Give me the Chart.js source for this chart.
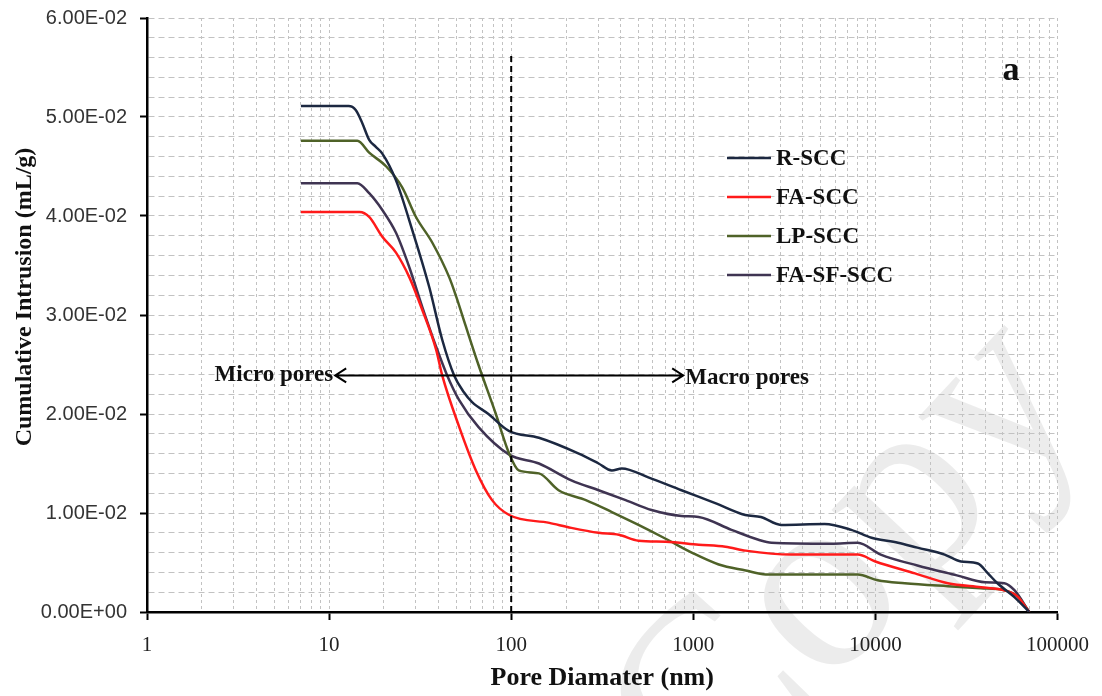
<!DOCTYPE html>
<html>
<head>
<meta charset="utf-8">
<script src="https://cdn.jsdelivr.net/npm/chart.js@4.4.1/dist/chart.umd.min.js"></script>
<style>
  html, body { margin: 0; padding: 0; background: #fff; }
  canvas { display: block; }
</style>
</head>
<body>
<canvas id="myChart" width="1102" height="696"></canvas>
<script>
// Pore diameter (nm) and cumulative intrusion (mL/g)
const rsccX = [7, 12.8, 14, 15.2, 16.6, 18, 19.6, 23.3, 28.6, 35.5, 41.8, 48.6, 55, 61, 75, 97, 142, 235, 302, 357, 405, 566, 861, 1320, 1930, 2350, 3030, 5260, 7370, 9520, 13300, 17000, 24000, 29500, 36500, 41500, 46800, 58000, 70000];
const rsccY = [0.0511, 0.0511, 0.0507, 0.0494, 0.0477, 0.0470, 0.0463, 0.0436, 0.0386, 0.0328, 0.0275, 0.0239, 0.0222, 0.0212, 0.0200, 0.0183, 0.0176, 0.0160, 0.0150, 0.0143, 0.0145, 0.0136, 0.0123, 0.0110, 0.0098, 0.0096, 0.0088, 0.0089, 0.0083, 0.0075, 0.0070, 0.0065, 0.0058, 0.0051, 0.0049, 0.0039, 0.0029, 0.0015, 0];

const fasccX = [7, 14.7, 16.6, 19.6, 23.3, 27.6, 32.5, 38.7, 41.8, 51.8, 64, 78.5, 97.5, 162, 214, 302, 390, 500, 705, 1070, 1500, 1940, 3460, 5700, 8000, 10000, 16500, 25000, 38000, 51000, 60000, 70000];
const fasccY = [0.0404, 0.0404, 0.0399, 0.0379, 0.0363, 0.0338, 0.0305, 0.0265, 0.0239, 0.0187, 0.0143, 0.0113, 0.0098, 0.0090, 0.0085, 0.0080, 0.0078, 0.0072, 0.0071, 0.0068, 0.0066, 0.0062, 0.0058, 0.0058, 0.0058, 0.0051, 0.0039, 0.0029, 0.0025, 0.0022, 0.0016, 0];

const lpsccX = [7, 14.3, 16.6, 20.6, 25.2, 30, 36.9, 45.7, 50, 56, 66, 82, 97.5, 110, 142, 182, 257, 357, 500, 705, 980, 1380, 1940, 2500, 5700, 8000, 10300, 14500, 25000, 38000, 51000, 60000, 70000];
const lpsccY = [0.0476, 0.0476, 0.0464, 0.0450, 0.0429, 0.0399, 0.0373, 0.0338, 0.0318, 0.0290, 0.0250, 0.0201, 0.0160, 0.0143, 0.0140, 0.0123, 0.0113, 0.0101, 0.0088, 0.0074, 0.0060, 0.0048, 0.0042, 0.0038, 0.0038, 0.0038, 0.0032, 0.0029, 0.0026, 0.0024, 0.0022, 0.0016, 0];

const fasfsccX = [7, 14.3, 16.6, 19.6, 23.3, 27.6, 32.5, 38.7, 44.5, 51.8, 66, 97.5, 142, 214, 302, 425, 590, 861, 1070, 1620, 2280, 2690, 5700, 8000, 10700, 17000, 28000, 40000, 51000, 58000, 70000];
const fasfsccY = [0.0433, 0.0433, 0.0423, 0.0406, 0.0383, 0.0348, 0.0308, 0.0268, 0.0239, 0.0214, 0.0187, 0.0159, 0.0150, 0.0133, 0.0123, 0.0113, 0.0103, 0.0097, 0.0096, 0.0083, 0.0073, 0.0070, 0.0069, 0.0070, 0.0058, 0.0047, 0.0037, 0.0030, 0.0029, 0.0022, 0];

const seriesNames = ['R-SCC', 'FA-SCC', 'LP-SCC', 'FA-SF-SCC'];
const seriesColors = ['#1c2841', '#ff1a1a', '#4f6228', '#3f3452'];

// axis ticks
const xDecades = [1, 10, 100, 1000, 10000, 100000];
const xTickLabels = ['1', '10', '100', '1000', '10000', '100000'];
const yMajor = [0, 0.01, 0.02, 0.03, 0.04, 0.05, 0.06];
const yTickLabels = ['0.00E+00', '1.00E-02', '2.00E-02', '3.00E-02', '4.00E-02', '5.00E-02', '6.00E-02'];

function pts(xs, ys) {
    return xs.map((x, i) => ({ x: x, y: ys[i] }));
}

function decadeIndex(v) {
    return xDecades.findIndex(d => Math.abs(d - v) < d * 1e-9);
}

function yMajorIndex(v) {
    return yMajor.findIndex(m => Math.abs(m - v) < 1e-9);
}

// minor log grid: 2..9 inside each decade
const xGrid = [];
xDecades.forEach((d, i) => {
    xGrid.push(d);
    if (i < xDecades.length - 1) {
        for (let m = 2; m <= 9; m++) xGrid.push(d * m);
    }
});

const serif = "'Liberation Serif', 'Times New Roman', serif";

// extra drawing: watermark, dashed 100 nm line, arrow, legend, panel letter
const extras = {
    id: 'extras',
    beforeDraw(chart) {
        const ctx = chart.ctx;
        ctx.save();
        ctx.translate(850, 565);
        ctx.rotate(-0.82);
        ctx.font = '260px ' + serif;
        ctx.fillStyle = 'rgba(0,0,0,0.075)';
        ctx.textAlign = 'center';
        ctx.textBaseline = 'middle';
        ctx.fillText('Copy', 0, 0);
        ctx.restore();
    },
    afterDatasetsDraw(chart) {
        const ctx = chart.ctx;
        const xs = chart.scales.x, ys = chart.scales.y;

        // 100 nm boundary
        ctx.save();
        ctx.strokeStyle = '#000';
        ctx.lineWidth = 2;
        ctx.setLineDash([6, 4]);
        ctx.beginPath();
        ctx.moveTo(xs.getPixelForValue(100), ys.getPixelForValue(0));
        ctx.lineTo(xs.getPixelForValue(100), ys.getPixelForValue(0.0562));
        ctx.stroke();
        ctx.restore();

        // double arrow
        const ay = ys.getPixelForValue(0.0239);
        const ax1 = xs.getPixelForValue(10.8);
        const ax2 = xs.getPixelForValue(880);
        ctx.save();
        ctx.strokeStyle = '#000';
        ctx.lineWidth = 2;
        ctx.beginPath();
        ctx.moveTo(ax1, ay);
        ctx.lineTo(ax2, ay);
        ctx.moveTo(ax1 + 11, ay - 7);
        ctx.lineTo(ax1, ay);
        ctx.lineTo(ax1 + 11, ay + 7);
        ctx.moveTo(ax2 - 11, ay - 7);
        ctx.lineTo(ax2, ay);
        ctx.lineTo(ax2 - 11, ay + 7);
        ctx.stroke();

        ctx.fillStyle = '#111';
        ctx.font = 'bold 23px ' + serif;
        ctx.textBaseline = 'middle';
        ctx.textAlign = 'right';
        ctx.fillText('Micro pores', ax1 - 2, ay);
        ctx.textAlign = 'left';
        ctx.fillText('Macro pores', ax2 + 2, ay + 3);

        // panel letter
        ctx.font = 'bold 34px ' + serif;
        ctx.textAlign = 'center';
        ctx.textBaseline = 'alphabetic';
        ctx.fillText('a', 1011, 80);

        // legend
        ctx.font = 'bold 23px ' + serif;
        ctx.textAlign = 'left';
        ctx.textBaseline = 'middle';
        chart.data.datasets.forEach((ds, i) => {
            const ly = 158 + i * 39;
            ctx.strokeStyle = ds.borderColor;
            ctx.lineWidth = 2.5;
            ctx.beginPath();
            ctx.moveTo(727, ly);
            ctx.lineTo(771, ly);
            ctx.stroke();
            ctx.fillStyle = '#111';
            ctx.fillText(ds.label, 776, ly + 1);
        });
        ctx.restore();
    }
};

const seriesX = [rsccX, fasccX, lpsccX, fasfsccX];
const seriesY = [rsccY, fasccY, lpsccY, fasfsccY];

const ctx = document.getElementById('myChart').getContext('2d');
const myChart = new Chart(ctx, {
    type: 'line',
    data: {
        datasets: seriesNames.map((name, i) => ({
            label: name,
            data: pts(seriesX[i], seriesY[i]),
            borderColor: seriesColors[i],
            backgroundColor: seriesColors[i],
            borderWidth: 2.5,
            pointRadius: 0,
            fill: false,
            cubicInterpolationMode: 'monotone'
        }))
    },
    options: {
        responsive: false,
        animation: false,
        layout: { padding: { left: 0, right: 40, top: 18, bottom: 0 } },
        plugins: {
            legend: { display: false },
            tooltip: { enabled: false }
        },
        scales: {
            x: {
                type: 'logarithmic',
                min: 1,
                max: 100000,
                afterBuildTicks: function(scale) {
                    scale.ticks = xGrid.map(v => ({ value: v, major: decadeIndex(v) >= 0 }));
                },
                afterFit: function(scale) { scale.height = 84; },
                grid: {
                    color: '#c2c2c2',
                    lineWidth: 1,
                    tickLength: 8,
                    tickWidth: 2,
                    tickColor: c => (c.tick && decadeIndex(c.tick.value) >= 0) ? '#000' : 'rgba(0,0,0,0)'
                },
                border: { color: '#000', width: 2.5, dash: [3, 3] },
                ticks: {
                    autoSkip: false,
                    maxRotation: 0,
                    padding: 13,
                    color: '#222',
                    font: { family: serif, size: 21 },
                    callback: function(value) {
                        const k = decadeIndex(value);
                        return k >= 0 ? xTickLabels[k] : '';
                    }
                },
                title: {
                    display: true,
                    text: 'Pore Diamater (nm)',
                    color: '#111',
                    font: { family: serif, size: 26, weight: 'bold' },
                    padding: { top: 0, bottom: 2 }
                }
            },
            y: {
                min: 0,
                max: 0.06,
                afterFit: function(scale) {
                    scale.width = 147;
                    scale.paddingTop = 0;
                    scale.paddingBottom = 0;
                },
                grid: {
                    color: '#c2c2c2',
                    lineWidth: 1,
                    tickLength: 7,
                    tickWidth: 2,
                    tickColor: c => (c.tick && yMajorIndex(c.tick.value) >= 0) ? '#000' : 'rgba(0,0,0,0)'
                },
                border: { color: '#000', width: 2.5, dash: [6, 4] },
                ticks: {
                    stepSize: 0.002,
                    autoSkip: false,
                    padding: 13,
                    color: '#333',
                    font: { family: "'Liberation Sans', Arial, sans-serif", size: 20 },
                    callback: function(value) {
                        const k = yMajorIndex(value);
                        return k >= 0 ? yTickLabels[k] : '';
                    }
                },
                title: {
                    display: true,
                    text: '\u2003\u2002Cumulative Intrusion (mL/g)',
                    color: '#111',
                    font: { family: serif, size: 24, weight: 'bold' },
                    padding: { top: 10, bottom: 0 }
                }
            }
        }
    },
    plugins: [extras]
});
</script>
</body>
</html>
